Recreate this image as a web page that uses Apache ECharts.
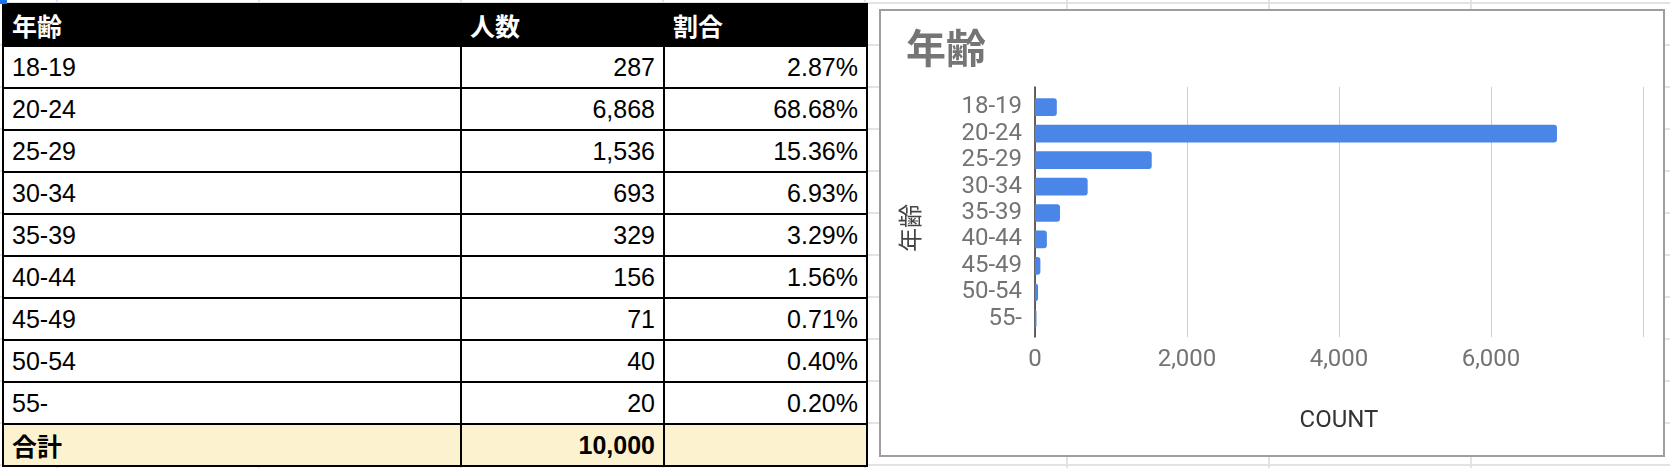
<!DOCTYPE html>
<html>
<head>
<meta charset="utf-8">
<script src="https://cdn.jsdelivr.net/npm/echarts@6/dist/echarts.min.js"></script>
<style>
  html, body {
    margin: 0;
    padding: 0;
  }
  body {
    width: 1670px;
    height: 468px;
    position: relative;
    overflow: hidden;
    background-color: #fff;
    /* シートの目盛り線 */
    background-image:
      linear-gradient(to right, #e3e3e3 2px, transparent 2px),
      linear-gradient(to bottom, #e3e3e3 2px, transparent 2px);
    background-size: 202px 100%, 100% 42px;
    background-position: 56px 0, 0 2px;
  }
  #sel {
    position: absolute;
    left: 0;
    top: 0;
    width: 7px;
    height: 4px;
    background: #1a73e8;
    z-index: 3;
  }
  table {
    position: absolute;
    left: 2px;
    top: 3px;
    border-collapse: collapse;
    table-layout: fixed;
    font-family: "Liberation Sans", Arial, "Noto Sans CJK JP", sans-serif;
    font-size: 25px;
    color: #000;
    background: #fff;
  }
  td, th {
    border: 2px solid #000;
    height: 42px;
    padding: 0 8px 0 8px;
    box-sizing: border-box;
    white-space: nowrap;
    overflow: hidden;
  }
  th {
    background: #000;
    color: #fff;
    font-weight: bold;
    text-align: left;
  }
  td.num { text-align: right; }
  tr.total td {
    background: #fcf2d0;
    font-weight: bold;
  }
  #box {
    position: absolute;
    left: 879px;
    top: 9px;
    width: 786px;
    height: 448px;
    box-sizing: border-box;
    border: 2px solid #9e9e9e;
    background: #fff;
  }
  #chart {
    width: 782px;
    height: 444px;
  }
</style>
</head>
<body>
<div id="sel"></div>
<table id="tbl">
  <colgroup>
    <col style="width:458px">
    <col style="width:203px">
    <col style="width:203px">
  </colgroup>
  <thead></thead>
  <tbody></tbody>
</table>
<div id="box"><div id="chart"></div></div>
<script>
// 表とグラフのデータ
var headers = ['年齢', '人数', '割合'];
var ageGroups = ['18-19', '20-24', '25-29', '30-34', '35-39', '40-44', '45-49', '50-54', '55-'];
var counts = [287, 6868, 1536, 693, 329, 156, 71, 40, 20];
var shares = [2.87, 68.68, 15.36, 6.93, 3.29, 1.56, 0.71, 0.40, 0.20];
var totalLabel = '合計';
var xTicks = [0, 2000, 4000, 6000, 8000];

function fmt(n) {
  return n.toLocaleString('en-US');
}

// 表を作る
var thead = document.querySelector('#tbl thead');
var tbody = document.querySelector('#tbl tbody');
thead.innerHTML = '<tr>' + headers.map(function (h) { return '<th>' + h + '</th>'; }).join('') + '</tr>';
var rows = '';
for (var i = 0; i < ageGroups.length; i++) {
  rows += '<tr><td>' + ageGroups[i] + '</td><td class="num">' + fmt(counts[i]) +
    '</td><td class="num">' + shares[i].toFixed(2) + '%</td></tr>';
}
var total = counts.reduce(function (a, b) { return a + b; }, 0);
rows += '<tr class="total"><td>' + totalLabel + '</td><td class="num">' + fmt(total) + '</td><td></td></tr>';
tbody.innerHTML = rows;

// グラフ
var chart = echarts.init(document.getElementById('chart'));
var labelFont = 'Roboto, "Noto Sans CJK JP", sans-serif';
var xMin = xTicks[0];
var xMax = xTicks[xTicks.length - 1];
var xStep = xTicks[1] - xTicks[0];

var option = {
  animation: false,
  title: {
    text: '年齢',
    left: 20,
    top: 17,
    textStyle: {
      fontFamily: labelFont,
      fontSize: 40,
      fontWeight: 'bold',
      color: '#757575'
    }
  },
  grid: [
    // 棒用
    { left: 154, right: 20, top: 83, bottom: 123 },
    // 目盛り線用
    { left: 154, right: 20, top: 76, bottom: 118 }
  ],
  xAxis: [
    {
      gridIndex: 0,
      type: 'value',
      min: xMin,
      max: xMax,
      show: false
    },
    {
      gridIndex: 1,
      type: 'value',
      min: xMin,
      max: xMax,
      interval: xStep,
      axisLine: { show: false },
      axisTick: { show: false },
      splitLine: { lineStyle: { color: '#cccccc', width: 1 } },
      axisLabel: {
        margin: 11,
        fontFamily: labelFont,
        fontSize: 24,
        color: '#737373',
        formatter: function (v) { return v === xMax ? '' : fmt(v); }
      },
      name: 'COUNT',
      nameLocation: 'middle',
      nameGap: 72,
      nameTextStyle: { fontFamily: labelFont, fontSize: 24, color: '#333333' }
    }
  ],
  yAxis: [
    {
      gridIndex: 0,
      type: 'category',
      data: ageGroups,
      inverse: true,
      axisLine: { show: false },
      axisTick: { show: false },
      axisLabel: {
        interval: 0,
        margin: 13,
        fontFamily: labelFont,
        fontSize: 24,
        color: '#737373'
      },
      name: '年齢',
      nameLocation: 'middle',
      nameGap: 110,
      nameTextStyle: {
        fontFamily: labelFont,
        fontSize: 24,
        color: '#444444',
        padding: [0, 30, 0, 0]
      }
    },
    {
      gridIndex: 1,
      type: 'value',
      min: 0,
      max: 1,
      axisLine: { show: true, lineStyle: { color: '#333333', width: 1.5 } },
      axisTick: { show: false },
      axisLabel: { show: false },
      splitLine: { show: false }
    }
  ],
  series: [
    {
      type: 'bar',
      xAxisIndex: 0,
      yAxisIndex: 0,
      data: counts,
      barCategoryGap: '33%',
      silent: true,
      itemStyle: {
        color: '#4a86e8',
        borderRadius: [0, 3, 3, 0]
      }
    }
  ]
};
chart.setOption(option);
</script>
</body>
</html>
